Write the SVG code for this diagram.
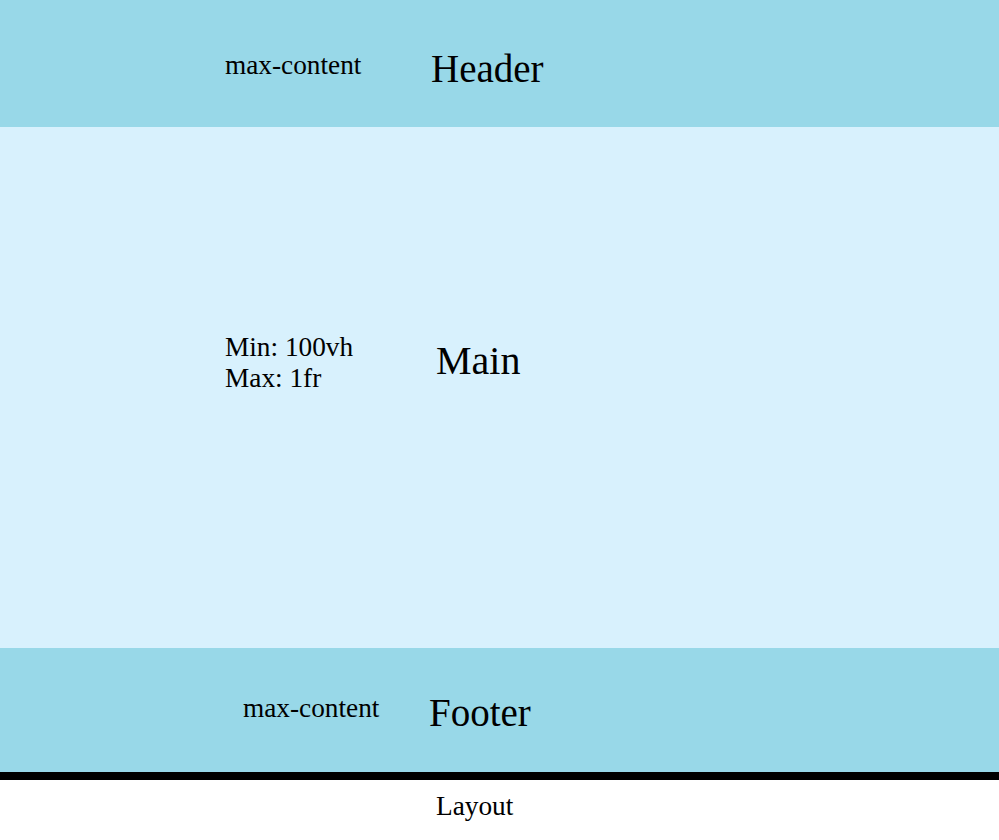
<svg xmlns="http://www.w3.org/2000/svg" width="999" height="840" viewBox="0 0 999 840">
<style>
.band{fill:#98d8e8}
.main{fill:#d8f1fd}
text{font-family:"Liberation Serif","Times New Roman",serif;fill:#000}
.s{font-size:27.3px}
.l{font-size:39px}
</style>
<rect x="0" y="0" width="999" height="840" fill="#ffffff"/>
<g id="header">
<rect class="band" x="0" y="0" width="999" height="127"/>
<text class="s" x="225" y="73.5">max-content</text>
<text class="l" x="431" y="81.5">Header</text>
</g>
<g id="main">
<rect class="main" x="0" y="127" width="999" height="521"/>
<text class="s" x="225" y="356">Min: 100vh</text>
<text class="s" x="225" y="387">Max: 1fr</text>
<text class="l" x="436" y="373.5" style="font-size:40px">Main</text>
</g>
<g id="footer">
<rect class="band" x="0" y="648" width="999" height="124"/>
<text class="s" x="243" y="716.5">max-content</text>
<text class="l" x="429" y="725.5">Footer</text>
</g>
<g id="layout">
<rect x="0" y="772" width="999" height="8" fill="#000"/>
<text class="s" x="436" y="815">Layout</text>
</g>
<g id="connectors"/>
</svg>
